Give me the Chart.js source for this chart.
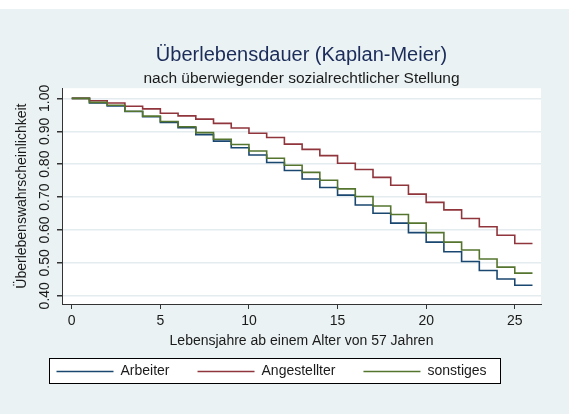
<!DOCTYPE html>
<html>
<head>
<meta charset="utf-8">
<title>Überlebensdauer (Kaplan-Meier)</title>
<script src="https://cdn.jsdelivr.net/npm/chart.js"></script>
<style>
  html, body { margin: 0; padding: 0; background: #eaf2f3; }
  #wrap { width: 569px; height: 414px; }
</style>
</head>
<body>
<div id="wrap"><canvas id="km-chart" width="569" height="414"></canvas></div>
<script>
// Lebensjahre ab 57 (step starts), last entry is the end of follow-up
const years = [0, 1, 2, 3, 4, 5, 6, 7, 8, 9, 10, 11, 12, 13, 14, 15, 16, 17, 18, 19, 20, 21, 22, 23, 24, 25, 26];

const arbeiter = [1.000, 0.986, 0.977, 0.960, 0.944, 0.927, 0.911, 0.890, 0.870, 0.850, 0.828, 0.805, 0.781, 0.755,
  0.729, 0.706, 0.676, 0.651, 0.621, 0.592, 0.563, 0.534, 0.504, 0.477, 0.451, 0.432, 0.432];
const angestellter = [1.000, 0.993, 0.986, 0.976, 0.968, 0.955, 0.947, 0.937, 0.924, 0.910, 0.894, 0.881, 0.861, 0.845,
  0.826, 0.803, 0.784, 0.760, 0.736, 0.709, 0.684, 0.661, 0.635, 0.610, 0.584, 0.559, 0.559];
const sonstiges = [1.000, 0.988, 0.979, 0.961, 0.946, 0.930, 0.914, 0.896, 0.876, 0.860, 0.840, 0.818, 0.797, 0.775,
  0.751, 0.725, 0.702, 0.673, 0.647, 0.621, 0.592, 0.563, 0.539, 0.512, 0.487, 0.469, 0.469];

const seriesNames = ['Arbeiter', 'Angestellter', 'sonstiges'];
const xTicks = [0, 5, 10, 15, 20, 25];
const yTicks = [0.4, 0.5, 0.6, 0.7, 0.8, 0.9, 1.0];

const FONT = '"Liberation Sans", Arial, sans-serif';
const TEXT = '#1a1a1a';

const toPoints = (vals) => vals.map((v, i) => ({ x: years[i], y: v }));

// background, white plot region and the framed legend (Stata s2color look)
const backdrop = {
  id: 'backdrop',
  afterLayout(chart) {
    const a = chart.chartArea;
    // titles centred over the plot region
    chart.boxes.forEach(b => {
      if (b.position === 'top') { b.left = a.left; b.right = a.right; }
    });
    // move the legend row to where Stata puts it
    const lg = chart.legend;
    const pad = lg.options.labels.padding;
    const start = (lg.left + pad + lg.right - lg.lineWidths[0]) / 2;
    const dx = 56.5 - start;
    lg.left += dx; lg.right += dx;
    const dy = 371.5 - (lg.top + pad + 7);
    lg.top += dy; lg.bottom += dy;
  },
  beforeDraw(chart) {
    const { ctx, chartArea: a } = chart;
    ctx.save();
    ctx.fillStyle = '#eaf2f3';
    ctx.fillRect(0, 0, chart.width, chart.height);
    ctx.fillStyle = '#ffffff';
    ctx.fillRect(0, 0, chart.width, 9);
    ctx.fillRect(a.left, a.top, a.right - a.left, a.bottom - a.top);

    const hits = chart.legend.legendHitBoxes;
    if (hits && hits.length) {
      const first = hits[0];
      const last = hits[hits.length - 1];
      const mid = first.top + 7;
      const x0 = Math.round(first.left - 8) + 0.5;
      const x1 = Math.round(last.left + last.width + 13) + 0.5;
      const y0 = Math.round(mid - 13.5) + 0.5;
      const y1 = Math.round(mid + 11.5) + 0.5;
      ctx.fillRect(x0, y0, x1 - x0, y1 - y0);
      ctx.strokeStyle = '#000000';
      ctx.lineWidth = 1;
      ctx.strokeRect(x0, y0, x1 - x0, y1 - y0);
    }
    ctx.restore();
  },
  // Stata writes the y labels turned by 90 degrees
  afterDraw(chart) {
    const { ctx } = chart;
    const y = chart.scales.y;
    ctx.save();
    ctx.fillStyle = TEXT;
    ctx.font = '14px ' + FONT;
    ctx.textAlign = 'center';
    ctx.textBaseline = 'middle';
    yTicks.forEach(v => {
      ctx.save();
      ctx.translate(45, y.getPixelForValue(v));
      ctx.rotate(-Math.PI / 2);
      ctx.fillText(v.toFixed(2), 0, 0);
      ctx.restore();
    });
    ctx.restore();
  }
};

new Chart(document.getElementById('km-chart'), {
  type: 'line',
  data: {
    datasets: [
      { label: seriesNames[0], data: toPoints(arbeiter), borderColor: '#1a476f', order: 2 },
      { label: seriesNames[1], data: toPoints(angestellter), borderColor: '#90353b', order: 1 },
      { label: seriesNames[2], data: toPoints(sonstiges), borderColor: '#55752f', order: 0 }
    ]
  },
  options: {
    responsive: false,
    animation: false,
    events: [],
    datasets: {
      line: { stepped: 'before', borderWidth: 1.6, pointRadius: 0, fill: false, tension: 0 }
    },
    layout: { padding: { left: 0, right: 28, top: 0, bottom: 0 } },
    scales: {
      x: {
        type: 'linear',
        min: -0.55,
        max: 26.48,
        afterBuildTicks: (s) => { s.ticks = xTicks.map(v => ({ value: v })); },
        afterFit: (s) => { s.height = 58; },
        grid: { drawOnChartArea: false, drawTicks: true, tickLength: 5, tickColor: '#333333' },
        border: { display: true, color: '#333333', width: 1 },
        ticks: { color: TEXT, font: { family: FONT, size: 14 }, padding: 4, maxRotation: 0 },
        title: {
          display: true,
          text: 'Lebensjahre ab einem Alter von 57 Jahren',
          color: TEXT,
          font: { family: FONT, size: 14 },
          padding: { top: 0, bottom: 12.6 }
        }
      },
      y: {
        type: 'linear',
        min: 0.375,
        max: 1.031,
        afterBuildTicks: (s) => { s.ticks = yTicks.map(v => ({ value: v })); },
        afterFit: (s) => { s.width = 62; },
        grid: { color: '#e4ecef', lineWidth: 1.5, drawTicks: true, tickLength: 5, tickColor: '#333333' },
        border: { display: true, color: '#333333', width: 1 },
        ticks: { display: false },
        title: {
          display: true,
          text: 'Überlebenswahrscheinlichkeit',
          color: TEXT,
          font: { family: FONT, size: 14 },
          padding: { top: 14, bottom: 0 }
        }
      }
    },
    plugins: {
      title: {
        display: true,
        text: 'Überlebensdauer (Kaplan-Meier)',
        color: '#1c2c5a',
        font: { family: FONT, size: 20, weight: 'normal' },
        padding: { top: 43.4, bottom: 0 }
      },
      subtitle: {
        display: true,
        text: 'nach überwiegender sozialrechtlicher Stellung',
        color: TEXT,
        font: { family: FONT, size: 15.5, weight: 'normal' },
        padding: { top: 1.6, bottom: 0.6 }
      },
      legend: {
        position: 'bottom',
        labels: {
          color: TEXT,
          font: { family: FONT, size: 14 },
          usePointStyle: true,
          pointStyle: 'line',
          pointStyleWidth: 57,
          padding: 28,
          sort: (a, b) => a.datasetIndex - b.datasetIndex
        }
      },
      tooltip: { enabled: false }
    }
  },
  plugins: [backdrop]
});
</script>
</body>
</html>
